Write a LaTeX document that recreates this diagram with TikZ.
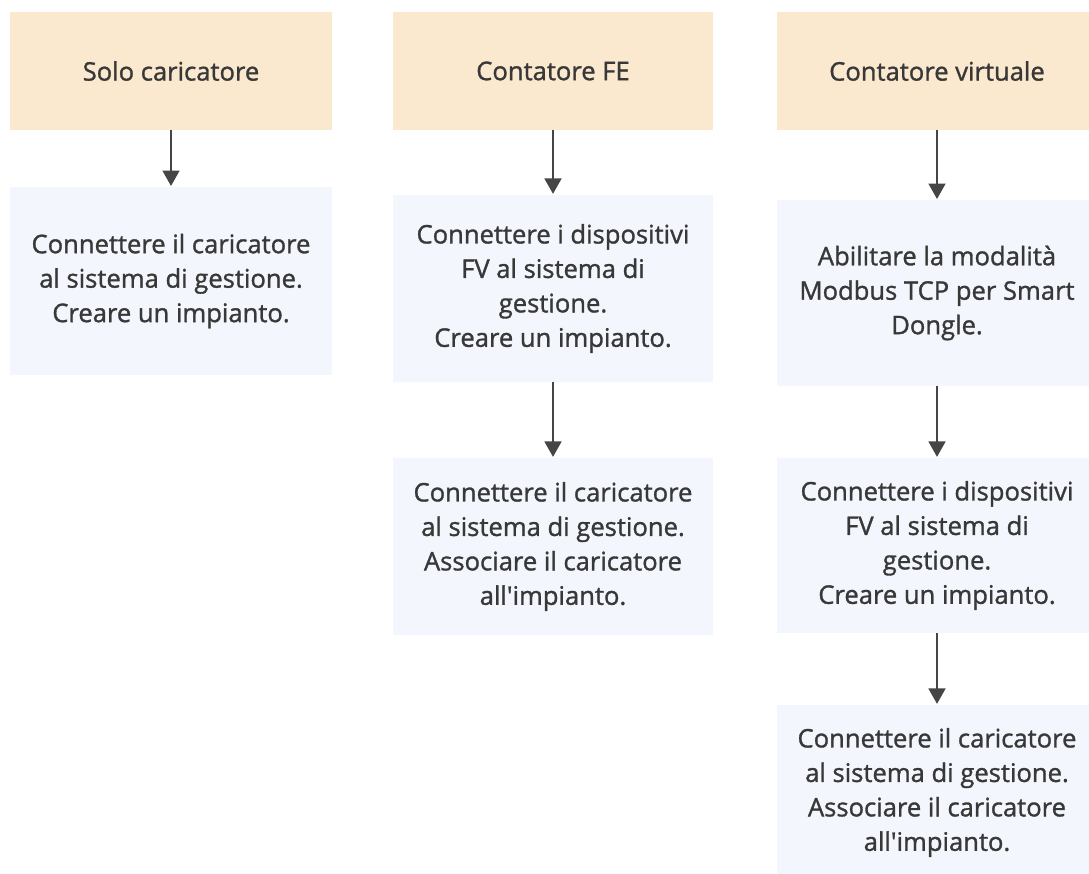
\documentclass[tikz,border=0pt]{standalone}
\usepackage{fontspec}
\setmainfont{Open Sans}[FakeBold=1.2]
\usetikzlibrary{positioning,arrows.meta}
\definecolor{hdrFill}{HTML}{FBE9CF}
\definecolor{stepFill}{HTML}{F3F6FC}
\definecolor{txtGrey}{HTML}{383838}
\definecolor{arrGrey}{HTML}{454545}
\begin{document}
\begin{tikzpicture}[x=0.025cm, y=-0.025cm,
  font=\fontsize{18.2}{24.5}\selectfont, text=txtGrey,
  hdrbox/.style={fill=hdrFill, minimum width=8cm, minimum height=2.95cm, align=center, inner sep=0pt},
  stepbox/.style={fill=stepFill, minimum width=8cm, align=center, inner sep=0pt},
  flow/.style={-{Triangle[width=12pt,length=11pt]}, arrGrey, line width=1.5pt, shorten >=0.5pt}]
\useasboundingbox (0,0) rectangle (1089,873);
\clip (0,0) rectangle (1089,873);
% headers
\node[hdrbox, minimum width=8.05cm] (solo) at (171,71) {Solo caricatore};
\node[hdrbox] (fe) at (553,71) {Contatore FE};
\node[hdrbox] (virt) at (937,71) {Contatore virtuale};
% column 1
\node[stepbox, minimum width=8.05cm, minimum height=4.7cm] (soloA) at (171,281) {Connettere il caricatore\\ al sistema di gestione.\\ Creare un impianto.};
% column 2
\node[stepbox, minimum height=4.68cm] (feA) at (553,288.5) {Connettere i dispositivi\\ FV al sistema di\\ gestione.\\ Creare un impianto.};
\node[stepbox, minimum height=4.43cm] (feB) at (553,546.5) {Connettere il caricatore\\ al sistema di gestione.\\ Associare il caricatore\\ all\textquotesingle impianto.};
% column 3
\node[stepbox, minimum height=4.65cm] (virtA) at (937,293) {Abilitare la modalità\\ Modbus TCP per Smart\\ Dongle.};
\node[stepbox, minimum height=4.38cm] (virtB) at (937,545.5) {Connettere i dispositivi\\ FV al sistema di\\ gestione.\\ Creare un impianto.};
\node[stepbox, minimum height=4.38cm] (virtC) at (937,792.5) {Connettere il caricatore\\ al sistema di gestione.\\ Associare il caricatore\\ all\textquotesingle impianto.};
% arrows
\draw[flow] (solo) -- (soloA);
\draw[flow] (fe) -- (feA);
\draw[flow] (feA) -- (feB);
\draw[flow] (virt) -- (virtA);
\draw[flow] (virtA) -- (virtB);
\draw[flow] (virtB) -- (virtC);
\end{tikzpicture}
\end{document}
